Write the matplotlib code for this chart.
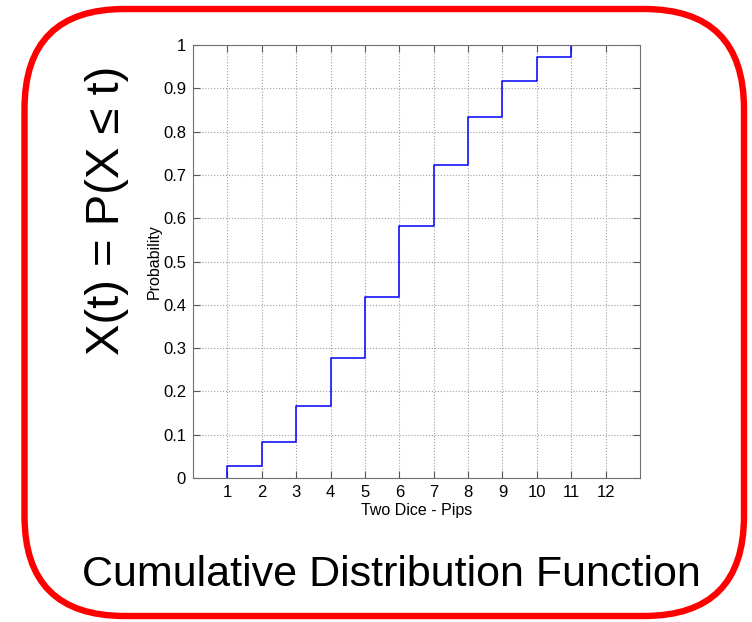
import matplotlib
matplotlib.use("Agg")
import matplotlib.pyplot as plt
from matplotlib.patches import FancyBboxPatch

plt.rcParams['font.family'] = ['Liberation Sans', 'DejaVu Sans']

# cumulative probability of the sum of two dice
pips = [1, 2, 3, 4, 5, 6, 7, 8, 9, 10, 11]
cdf = [0.028, 0.083, 0.167, 0.278, 0.417, 0.583, 0.722, 0.833, 0.917, 0.972, 1.0]
x_ticks = [1, 2, 3, 4, 5, 6, 7, 8, 9, 10, 11, 12]
y_ticks = [0, 0.1, 0.2, 0.3, 0.4, 0.5, 0.6, 0.7, 0.8, 0.9, 1]
y_ticklabels = ['0', '0.1', '0.2', '0.3', '0.4', '0.5', '0.6', '0.7', '0.8', '0.9', '1']

W, H = 752, 622
fig = plt.figure(figsize=(W / 100, H / 100), dpi=100)

# background layer in pixel units for the red rounded frame and big texts
bg = fig.add_axes([0, 0, 1, 1])
bg.set_xlim(0, W)
bg.set_ylim(0, H)
bg.axis('off')
frame = FancyBboxPatch((24.5 + 100, 6 + 100), 744 - 24.5 - 200, 613 - 6 - 200,
                       boxstyle="round,pad=100", fc='white', ec='#ff0000', lw=4.6)
bg.add_patch(frame)
bg.text(107, 412, "X(t) = P(X \u2264 t)", rotation=90, fontsize=34,
        ha='center', va='center')
bg.text(391, 47, "Cumulative Distribution Function", fontsize=31,
        ha='center', va='center')

# main chart
ax = fig.add_axes([193 / W, 1 - 478 / H, (640 - 193) / W, (478 - 45) / H])
ax.step([pips[0]] + pips, [0] + cdf, where='post', color='#0000ff', lw=1.1)
ax.set_xlim(0, 13)
ax.set_ylim(0, 1)
ax.set_xticks(x_ticks)
ax.set_yticks(y_ticks)
ax.set_yticklabels(y_ticklabels)
ax.grid(True, linestyle=':', color='#a0a0a0', lw=0.8)
ax.tick_params(direction='in', length=5, top=True, right=True,
               labelsize=12, color='#555555', pad=5)
for s in ax.spines.values():
    s.set_color('#707070')
ax.set_xlabel("Two Dice - Pips", fontsize=11.5, labelpad=2)
ax.set_ylabel("Probability", fontsize=11.5, labelpad=1)

fig.savefig("out.png", dpi=100)
